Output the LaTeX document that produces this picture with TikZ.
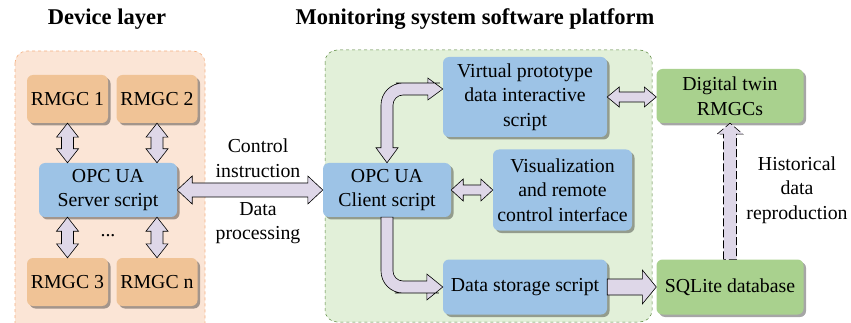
\documentclass[tikz,border=0pt]{standalone}
\usepackage{fontspec}
\setmainfont{Liberation Serif}
\usetikzlibrary{calc,shadows}

\definecolor{devbg}{RGB}{251,229,214}
\definecolor{devline}{RGB}{244,177,131}
\definecolor{platbg}{RGB}{226,240,217}
\definecolor{platline}{RGB}{84,130,53}
\definecolor{rmgcfill}{RGB}{240,195,150}
\definecolor{scriptfill}{RGB}{157,195,230}
\definecolor{twinfill}{RGB}{169,209,142}
\definecolor{arrowfill}{RGB}{222,215,232}

% #3 half shaft, #4 half head, #5 head length
\newcommand{\dblarrowH}[5]{%
  \draw[fatarrow] (#1) -- ($(#1)+(#5,-#4)$) -- ($(#1)+(#5,-#3)$) -- ($(#2)+(-#5,-#3)$) -- ($(#2)+(-#5,-#4)$) -- (#2) -- ($(#2)+(-#5,#4)$) -- ($(#2)+(-#5,#3)$) -- ($(#1)+(#5,#3)$) -- ($(#1)+(#5,#4)$) -- cycle;}
\newcommand{\dblarrowV}[5]{%
  \draw[fatarrow] (#1) -- ($(#1)+(-#4,#5)$) -- ($(#1)+(-#3,#5)$) -- ($(#2)+(-#3,-#5)$) -- ($(#2)+(-#4,-#5)$) -- (#2) -- ($(#2)+(#4,-#5)$) -- ($(#2)+(#3,-#5)$) -- ($(#1)+(#3,#5)$) -- ($(#1)+(#4,#5)$) -- cycle;}
\newcommand{\onearrowH}[6][]{%
  \draw[fatarrow,#1] ($(#2)+(0,-#4)$) -- ($(#3)+(-#6,-#4)$) -- ($(#3)+(-#6,-#5)$) -- (#3) -- ($(#3)+(-#6,#5)$) -- ($(#3)+(-#6,#4)$) -- ($(#2)+(0,#4)$) -- cycle;}
\newcommand{\onearrowV}[6][]{%
  \draw[fatarrow,#1] ($(#2)+(-#4,0)$) -- ($(#3)+(-#4,#6)$) -- ($(#3)+(-#5,#6)$) -- (#3) -- ($(#3)+(#5,#6)$) -- ($(#3)+(#4,#6)$) -- ($(#2)+(#4,0)$) -- cycle;}

\begin{document}
\begin{tikzpicture}[x=1pt,y=-1pt,
  every node/.style={font=\fontsize{19.8}{24.5}\selectfont},
  box/.style={rounded corners=6pt, align=center, inner sep=2pt,
    drop shadow={shadow xshift=2.5pt,shadow yshift=-2.5pt,opacity=0.35,fill=black}},
  rmgc/.style={box, fill=rmgcfill, minimum width=81pt, minimum height=48pt},
  script/.style={box, fill=scriptfill},
  twin/.style={box, fill=twinfill, minimum width=147pt, minimum height=54pt},
  title/.style={font=\fontsize{22.5}{26}\selectfont\bfseries},
  fatarrow/.style={draw=black, line width=0.6pt, fill=arrowfill, line join=miter}]
\useasboundingbox (0,0) rectangle (851,323);
\draw[devline, fill=devbg, dashed, rounded corners=12pt, line width=0.6pt] (15,51) rectangle (205,335);
\draw[platline, fill=platbg, dashed, rounded corners=12pt, line width=0.5pt] (325,50) rectangle (652,322);

\node[title] (tDev) at (107,19) {Device layer};
\node[title] (tPlat) at (475,19) {Monitoring system software platform};

\node[rmgc] (nR1) at (67.5,99) {RMGC 1};
\node[rmgc] (nR2) at (157,99) {RMGC 2};
\node[script, minimum width=138pt, minimum height=54pt] (nServer) at (108,190) {OPC UA\\Server script};
\node[rmgc] (nR3) at (67.5,282) {RMGC 3};
\node[rmgc] (nRn) at (157,282) {RMGC n};
\node (nDots) at (108,236) {...};
\node[script, minimum width=128pt, minimum height=54pt] (nClient) at (387,190) {OPC UA\\Client script};
\node[script, minimum width=164pt, minimum height=80pt] (nVirt) at (525,97) {Virtual prototype\\data interactive\\script};
\node[script, minimum width=139pt, minimum height=81pt] (nVis) at (562.5,190) {Visualization\\and remote\\control interface};
\node[script, minimum width=164pt, minimum height=55pt] (nStore) at (525,287) {Data storage script};
\node[twin] (nTwin) at (730,96) {Digital twin\\RMGCs};
\node[twin, minimum height=55pt] (nSql) at (730,287) {SQLite database};

\node[align=center] (lCtrl) at (258,158) {Control\\instruction};
\node[align=center] (lData) at (258,223) {Data\\processing};
\node[align=center] (lHist) at (797,190) {Historical\\data\\reproduction};

\coordinate (cR1) at (nR1.south |- nServer.north);
\coordinate (cR2) at (nR2.south |- nServer.north);
\coordinate (cR3) at (nR3.north |- nServer.south);
\coordinate (cRn) at (nRn.north |- nServer.south);
\dblarrowV{nR1.south}{cR1}{6}{11}{14}
\dblarrowV{nR2.south}{cR2}{6}{11}{14}
\dblarrowV{cR3}{nR3.north}{6}{11}{14}
\dblarrowV{cRn}{nRn.north}{6}{11}{14}

\dblarrowH{nServer.east}{nClient.west}{7}{14}{15}
\dblarrowH{nClient.east}{nVis.west}{5}{11}{12}
\coordinate (cTwin) at (nVirt.east -| nTwin.west);
\dblarrowH{nVirt.east}{cTwin}{5}{10}{12}
\onearrowH{nStore.east}{nSql.west}{8}{17}{14}
\onearrowV[dash pattern=on 8pt off 3pt]{nSql.north}{nTwin.south}{6.5}{13}{11}

\coordinate (cVtip) at ($(nVirt.west)+(0,-8)$);
\coordinate (cBend) at (nClient.north |- cVtip);
\draw[fatarrow] (nClient.north) -- ++(-11,-15) -- ++(5,0) -- ($(cBend)+(-6,30)$) [rounded corners=22pt] -- ($(cBend)+(-6,-6)$) -- ($(cVtip)+(-25,-6)$) [sharp corners] -- ($(cVtip)+(-15,-6)$) -- ($(cVtip)+(-15,-11)$) -- (cVtip) -- ($(cVtip)+(-15,11)$) -- ($(cVtip)+(-15,6)$) -- ($(cVtip)+(-25,6)$) [rounded corners=10pt] -- ($(cBend)+(6,6)$) -- ($(cBend)+(6,30)$) [sharp corners] -- ($(nClient.north)+(6,-15)$) -- ($(nClient.north)+(11,-15)$) -- cycle;

\coordinate (cBend2) at (nClient.south |- nStore.west);
\draw[fatarrow] ($(nClient.south)+(-6,0)$) -- ($(nClient.south)+(-6,20)$) [rounded corners=22pt] -- ($(cBend2)+(-6,6)$) -- ($(nStore.west)+(-26,6)$) [sharp corners] -- ($(nStore.west)+(-16,6)$) -- ($(nStore.west)+(-16,13)$) -- (nStore.west) -- ($(nStore.west)+(-16,-13)$) -- ($(nStore.west)+(-16,-6)$) -- ($(nStore.west)+(-26,-6)$) [rounded corners=10pt] -- ($(cBend2)+(6,-6)$) -- ($(nClient.south)+(6,20)$) [sharp corners] -- ($(nClient.south)+(6,0)$) -- cycle;
\end{tikzpicture}
\end{document}
